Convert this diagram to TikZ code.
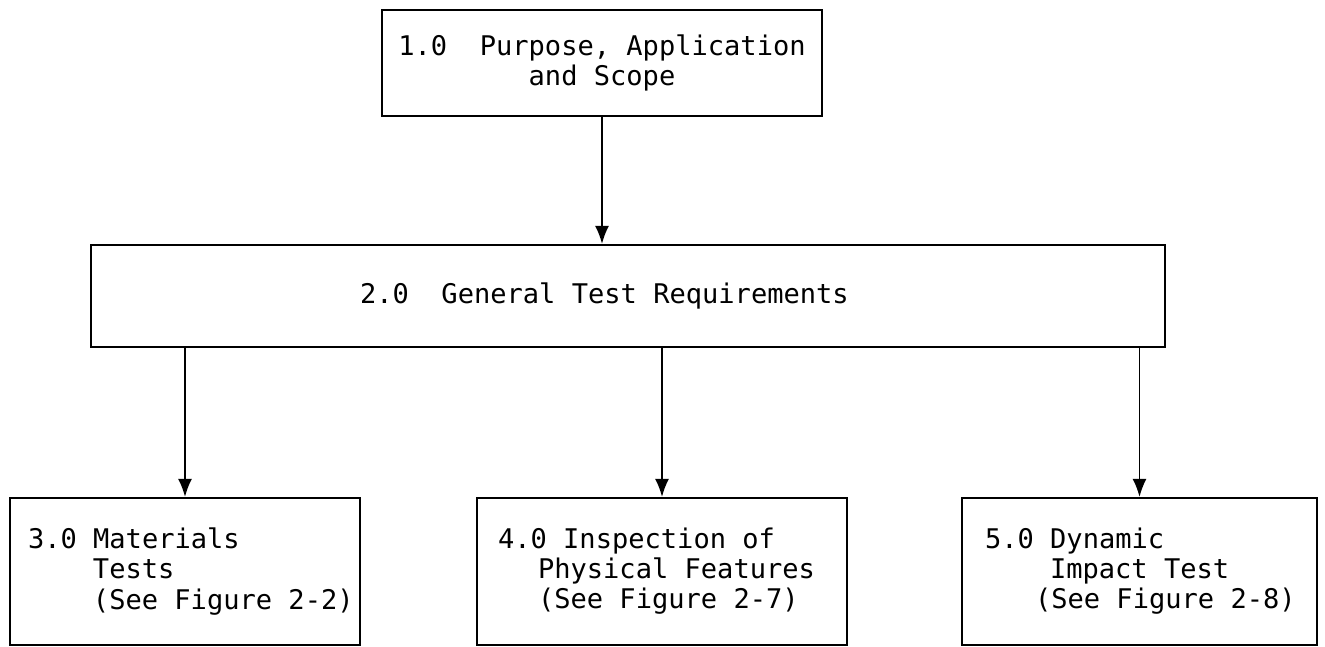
\documentclass[tikz,border=0pt]{standalone}
\usepackage{fontspec}
\setmonofont{DejaVu Sans Mono}
\usetikzlibrary{arrows.meta, positioning}
% keep the full mono space inside text-width nodes
\newcommand{\fullsp}{\spaceskip=0pt\xspaceskip=0pt\relax}

\begin{document}
\begin{tikzpicture}[
  box/.style={draw, line width=1.3pt, font=\ttfamily\fontsize{15.4}{17.1}\selectfont, inner sep=0pt},
  lowbox/.style={box, minimum height=2.94cm, align=left},
  flow/.style={-{Latex[length=3.6mm, width=2.8mm]}, line width=0.9pt},
]
\useasboundingbox (0,0) rectangle (26.5,-12.92);
% top level
\node[box, minimum width=8.8cm, minimum height=2.12cm, align=center] (purpose) at (12.04,-1.26)
  {1.0~ Purpose, Application\\and Scope};
% general requirements
\node[box, text width=21.48cm, minimum height=2.04cm, align=left] (general) at (12.56,-5.92)
  {\fullsp\hspace*{5.38cm}2.0~ General Test Requirements};
% three test groups
\node[lowbox, text width=7.0cm] (materials) at (3.70,-11.43)
  {\fullsp\hspace*{0.36cm}3.0 Materials\\\hspace*{1.66cm}Tests\\\hspace*{1.66cm}(See Figure 2-2)};
\node[lowbox, text width=7.4cm] (inspection) at (13.24,-11.43)
  {\fullsp\hspace*{0.42cm}4.0 Inspection of\\\hspace*{1.22cm}Physical Features\\\hspace*{1.22cm}(See Figure 2-7)};
\node[lowbox, text width=7.1cm] (impact) at (22.79,-11.43)
  {\fullsp\hspace*{0.46cm}5.0 Dynamic\\\hspace*{1.76cm}Impact Test\\\hspace*{1.46cm}(See Figure 2-8)};

% connectors
\draw[flow] (purpose.south) -- (purpose.south |- general.north);
\draw[flow] (materials.north |- general.south) -- (materials.north);
\draw[flow] (inspection.north |- general.south) -- (inspection.north);
\draw[flow] (impact.north |- general.south) -- (impact.north);
\end{tikzpicture}
\end{document}
